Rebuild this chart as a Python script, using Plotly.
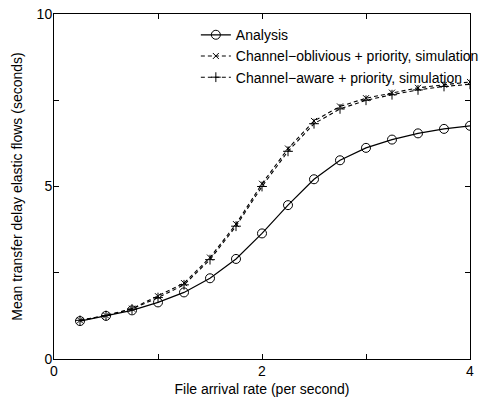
import plotly.graph_objects as go

# File arrival rate (per second)
arrival_rate = [0.25, 0.5, 0.75, 1.0, 1.25, 1.5, 1.75, 2.0,
                2.25, 2.5, 2.75, 3.0, 3.25, 3.5, 3.75, 4.0]

# Mean transfer delay of elastic flows (seconds)
analysis = [1.10, 1.25, 1.41, 1.64, 1.93, 2.34, 2.90, 3.64,
            4.46, 5.21, 5.76, 6.12, 6.36, 6.54, 6.67, 6.76]
oblivious_sim = [1.12, 1.26, 1.46, 1.82, 2.20, 2.94, 3.91, 5.08,
                 6.10, 6.90, 7.32, 7.56, 7.72, 7.86, 7.95, 8.03]
aware_sim = [1.12, 1.26, 1.45, 1.78, 2.15, 2.88, 3.85, 5.00,
             6.02, 6.82, 7.25, 7.50, 7.66, 7.80, 7.90, 7.96]

series_names = ["Analysis",
                "Channel\u2212oblivious + priority, simulation",
                "Channel\u2212aware + priority, simulation"]

FONT = "Liberation Sans, Arial, Helvetica, sans-serif"

fig = go.Figure()
fig.add_trace(go.Scatter(
    x=arrival_rate, y=analysis, name=series_names[0], mode="lines+markers",
    line=dict(color="black", width=1.2),
    marker=dict(symbol="circle-open", size=9, color="black", line=dict(width=1)),
))
fig.add_trace(go.Scatter(
    x=arrival_rate, y=oblivious_sim, name=series_names[1], mode="lines+markers",
    line=dict(color="black", width=1.1, dash="4px,3px"),
    marker=dict(symbol="x-thin", size=6, color="black", line=dict(width=1, color="black")),
))
fig.add_trace(go.Scatter(
    x=arrival_rate, y=aware_sim, name=series_names[2], mode="lines+markers",
    line=dict(color="black", width=1.1, dash="4px,3px"),
    marker=dict(symbol="cross-thin", size=7, color="black", line=dict(width=1, color="black")),
))

axis_common = dict(
    showgrid=False, zeroline=False, showline=True, linecolor="black", linewidth=1,
    mirror="allticks", ticks="inside", ticklen=5, tickcolor="black", tickwidth=1,
    tickfont=dict(family=FONT, size=14, color="black"),
)

fig.update_xaxes(
    range=[0, 4], tick0=0, dtick=2, ticklabelstandoff=-1,
    minor=dict(dtick=1, ticks="inside", ticklen=5, tickcolor="black"),
    title=dict(text="File arrival rate (per second)", font=dict(family=FONT, size=14, color="black"),
               standoff=6),
    **axis_common,
)
fig.update_yaxes(
    range=[0, 10], tick0=0, dtick=5, ticklabelstandoff=-2,
    minor=dict(dtick=2.5, ticks="inside", ticklen=5, tickcolor="black"),
    title=dict(text="Mean transfer delay elastic flows (seconds)",
               font=dict(family=FONT, size=14, color="black"), standoff=10),
    **axis_common,
)

fig.update_layout(
    width=492, height=405,
    margin=dict(l=54, r=22, t=14, b=46, autoexpand=False),
    paper_bgcolor="white", plot_bgcolor="white",
    font=dict(family=FONT, size=14, color="black"),
    showlegend=True,
    legend=dict(x=0.341, y=0.985, xanchor="left", yanchor="top",
                bgcolor="rgba(0,0,0,0)", tracegroupgap=0,
                font=dict(family=FONT, size=14, color="black"),
                itemwidth=30),
)

fig.write_html("out.html")
